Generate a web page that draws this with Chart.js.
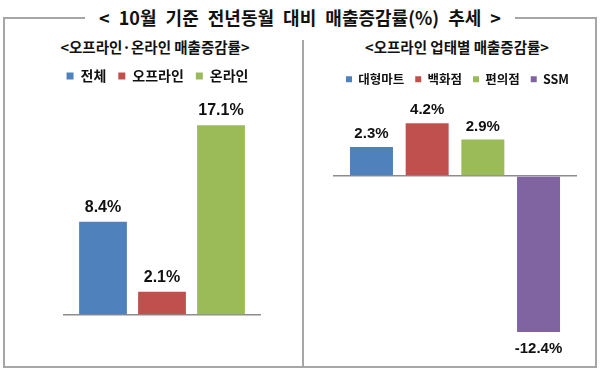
<!DOCTYPE html>
<html><head><meta charset="utf-8">
<script src="https://cdn.jsdelivr.net/npm/chart.js@4"></script>
<style>
body{margin:0;width:600px;height:370px;background:#fff;position:relative;overflow:hidden;font-family:"Noto Sans CJK KR","Noto Sans",sans-serif;color:#111;}
#frame{position:absolute;left:3px;top:17px;width:590px;height:347px;border:2px solid #a6a6a6;}
#title{position:absolute;left:0;top:3px;width:600px;text-align:center;font-size:18px;font-weight:bold;line-height:28px;word-spacing:5px;}
#title span{background:#fff;padding:0 14px;}
#divider{position:absolute;left:302px;top:40px;width:2px;height:327px;background:#a6a6a6;}
.sub{position:absolute;top:36px;font-size:14.5px;font-weight:bold;line-height:22px;text-align:center;width:290px;}
.box{position:absolute;}
</style>
</head><body>
<div id="frame"></div>
<div id="title"><span>&lt; 10월 기준 전년동월 대비 매출증감률(%) 추세 &gt;</span></div>
<div id="divider"></div>
<div class="sub" style="left:10px">&lt;오프라인·온라인 매출증감률&gt;</div>
<div class="sub" style="left:312px">&lt;오프라인 업태별 매출증감률&gt;</div>
<div class="box" style="left:0;top:55px"><canvas id="c1" width="300" height="312"></canvas></div>
<div class="box" style="left:302px;top:55px"><canvas id="c2" width="298" height="312"></canvas></div>
<script>
const leftCategories = ['전체', '오프라인', '온라인'];
const leftValues = [8.4, 2.1, 17.1];
const rightCategories = ['대형마트', '백화점', '편의점', 'SSM'];
const rightValues = [2.3, 4.2, 2.9, -12.4];
const palette = ['#4F81BD', '#C0504D', '#9BBB59', '#8064A2'];

const valueLabels = {
  id: 'valueLabels',
  afterDatasetsDraw(chart, args, opts) {
    const ctx = chart.ctx;
    ctx.save();
    ctx.font = opts.font;
    ctx.fillStyle = '#111';
    ctx.textAlign = 'center';
    chart.data.datasets.forEach((ds, i) => {
      const meta = chart.getDatasetMeta(i);
      meta.data.forEach((bar, j) => {
        const v = ds.data[j];
        const txt = v.toFixed(1) + '%';
        if (v >= 0) {
          ctx.textBaseline = 'alphabetic';
          ctx.fillText(txt, bar.x, bar.y - opts.offset);
        } else {
          ctx.textBaseline = 'top';
          ctx.fillText(txt, bar.x, bar.y + opts.offset2);
        }
      });
    });
    ctx.restore();
  }
};

function makeDatasets(cats, vals, cp, bp) {
  return cats.map((c, i) => ({
    label: c,
    data: [vals[i]],
    backgroundColor: palette[i],
    borderWidth: 0,
    categoryPercentage: cp,
    barPercentage: bp
  }));
}

function makeChart(id, cats, vals, opt) {
  return new Chart(document.getElementById(id), {
    type: 'bar',
    data: { labels: [''], datasets: makeDatasets(cats, vals, opt.cp, opt.bp) },
    options: {
      responsive: false,
      animation: false,
      layout: { padding: opt.padding },
      plugins: {
        legend: {
          position: 'top',
          labels: {
            boxWidth: opt.box, boxHeight: opt.box,
            padding: opt.legendPad,
            color: '#111',
            font: { family: '"Noto Sans CJK KR", sans-serif', size: opt.legendSize, weight: 'bold' }
          }
        },
        tooltip: { enabled: false },
        valueLabels: { font: opt.labelFont, offset: opt.offset, offset2: opt.offset2 }
      },
      scales: {
        x: { display: false },
        y: {
          min: opt.min, max: opt.max,
          ticks: { display: false, stepSize: 2 },
          border: { display: false },
          grid: {
            drawTicks: false,
            lineWidth: 1.5,
            color: c => (c.tick && c.tick.value === 0) ? '#8c8c8c' : 'rgba(0,0,0,0)'
          },
          afterFit: s => { s.width = opt.yWidth; }
        },
        y2: {
          type: 'linear',
          position: 'right',
          ticks: { display: false },
          border: { display: false },
          grid: { display: false, drawTicks: false },
          afterFit: s => { s.width = opt.y2Width; }
        }
      }
    },
    plugins: [valueLabels]
  });
}

makeChart('c1', leftCategories, leftValues, {
  cp: 0.894, bp: 0.81,
  padding: { left: 20, right: 5, top: 2, bottom: 52 },
  yWidth: 43, y2Width: 34,
  box: 7, legendPad: 12, legendSize: 14,
  labelFont: 'bold 16px "Liberation Sans", Arial, sans-serif',
  offset: 10, offset2: 8,
  min: 0, max: 20
});

makeChart('c2', rightCategories, rightValues, {
  cp: 0.913, bp: 0.772,
  padding: { left: 15, right: 2, top: 7, bottom: 15 },
  yWidth: 16, y2Width: 21,
  box: 6, legendPad: 11, legendSize: 12.5,
  labelFont: 'bold 15px "Liberation Sans", Arial, sans-serif',
  offset: 9, offset2: 9,
  min: -14, max: 6.4
});
</script>
</body></html>
